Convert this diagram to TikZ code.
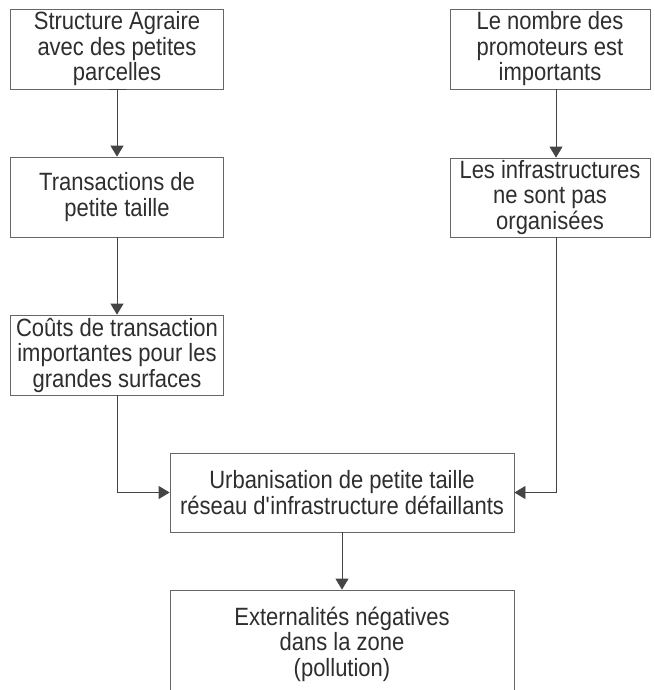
\documentclass[tikz,border=0pt]{standalone}
\usepackage{fontspec}
\setmainfont{Liberation Sans}[FakeStretch=0.88]
\usetikzlibrary{arrows.meta}
\definecolor{txtc}{HTML}{2E2E2E}
\definecolor{boxc}{HTML}{666666}
\definecolor{linec}{HTML}{444444}
\begin{document}
\begin{tikzpicture}[x=1pt,y=-1pt,
  box/.style={draw=boxc,line width=0.8pt,align=center,text=txtc,inner sep=1pt,
    font=\fontsize{25}{25.5}\selectfont},
  arr/.style={draw=linec,line width=0.8pt,-{Triangle[width=13pt,length=11pt]}}]
\clip (0,0) rectangle (654,690);
\fill[white] (0,0) rectangle (654,690);
\node[box,minimum width=213pt,minimum height=80pt] (A) at (117,49) {Structure Agraire\\avec des petites\\parcelles};
\node[box,minimum width=213pt,minimum height=80pt] (B) at (117,197) {Transactions de\\petite taille};
\node[box,minimum width=213pt,minimum height=80pt] (C) at (117,355) {Coûts de transaction\\importantes pour les\\grandes surfaces};
\node[box,minimum width=200pt,minimum height=80pt] (D) at (550,49) {Le nombre des\\promoteurs est\\importants};
\node[box,minimum width=200pt,minimum height=79pt] (E) at (550,197.5) {Les infrastructures\\ne sont pas\\organisées};
\node[box,minimum width=344pt,minimum height=79pt] (F) at (342,492.5) {Urbanisation de petite taille\\réseau d\textquotesingle infrastructure défaillants};
\node[box,minimum width=344pt,minimum height=108pt] (G) at (342,644) {Externalités négatives\\dans la zone\\(pollution)};
\draw[linec,line width=1.6pt] ([xshift=-8.5pt]A.south) -- ([xshift=8.5pt]A.south);
\draw[arr] (A.south) -- (B.north);
\draw[arr] (B.south) -- (C.north);
\draw[arr] ([xshift=6pt]D.south) -- ([xshift=6pt]E.north);
\draw[arr] (C.south) |- (F.west);
\draw[arr] ([xshift=6pt]E.south) |- (F.east);
\draw[arr] (F.south) -- (G.north);
\end{tikzpicture}
\end{document}
